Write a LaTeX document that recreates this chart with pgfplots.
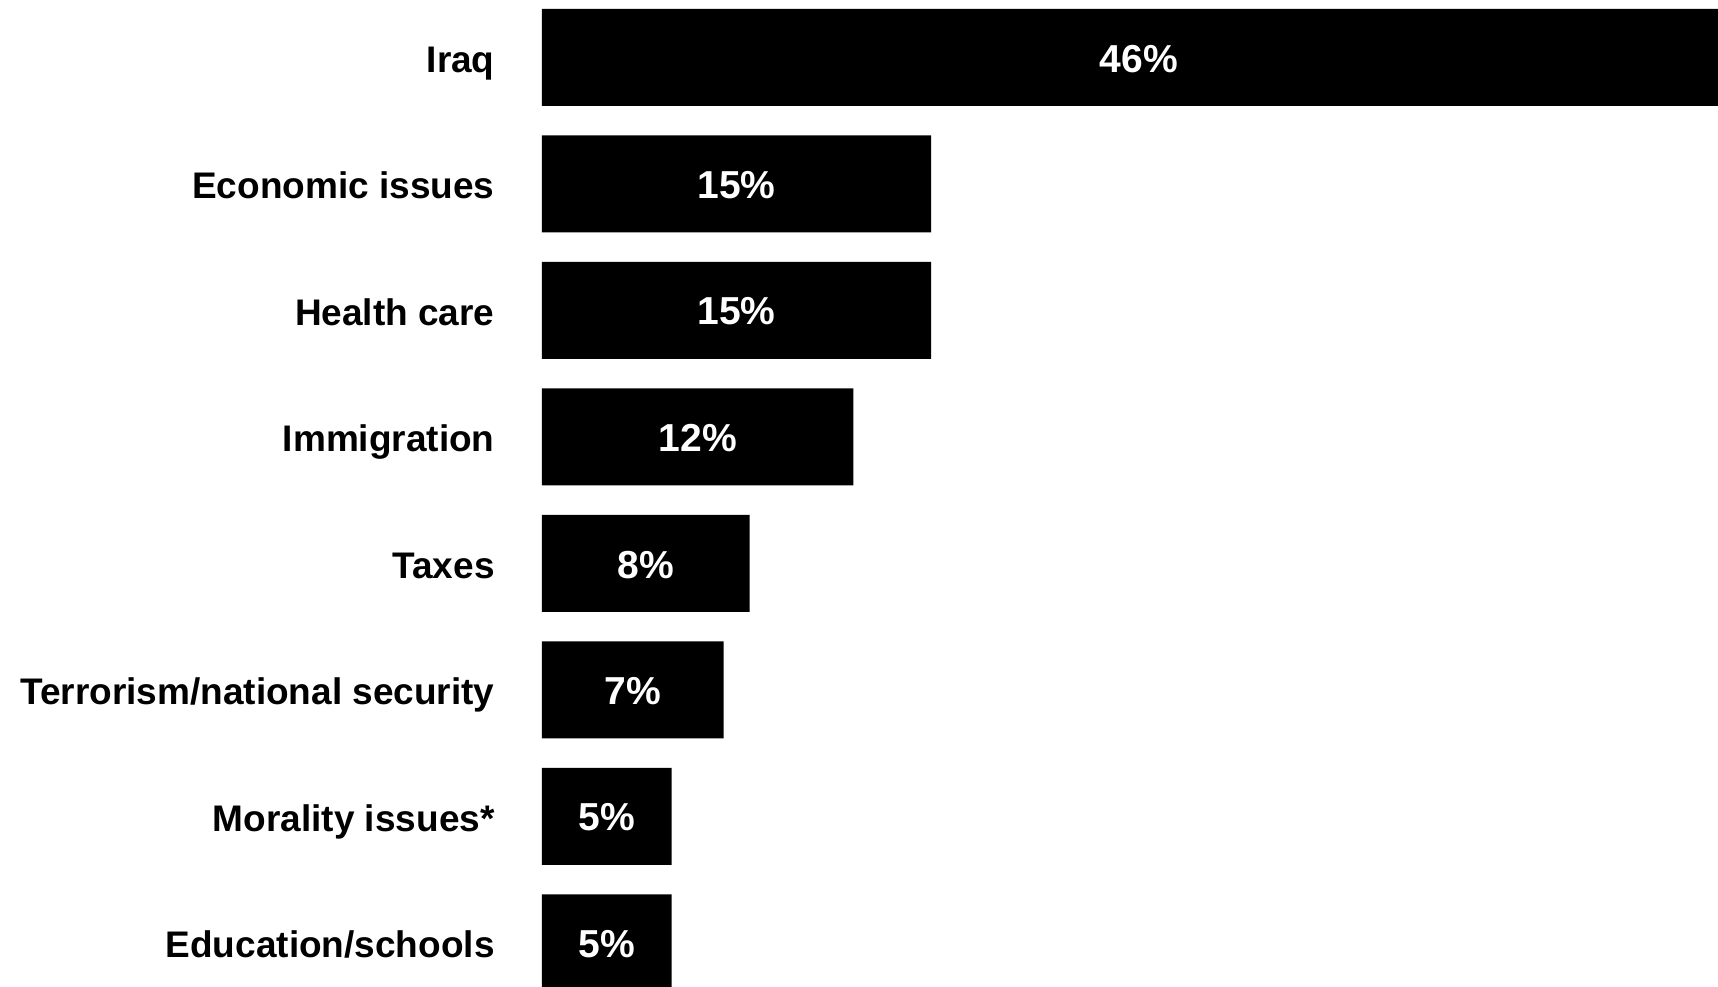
\documentclass[border=0pt]{standalone}
\usepackage{fontspec}
\setmainfont{Liberation Sans}
\usepackage{pgfplots}
\pgfplotsset{compat=1.18}
\begin{document}
\begin{tikzpicture}
\begin{axis}[
  at={(0,0)}, anchor=south west,
  scale only axis, width=588pt, height=493pt,
  xbar, bar width=0.768,
  xmin=0, xmax=45.32,
  ymin=-0.4538, ymax=7.341, y dir=reverse,
  clip=false,
  axis line style={draw=none},
  xtick=\empty,
  ytick={0,1,2,3,4,5,6,7},
  yticklabels={Iraq, Economic issues, Health care, Immigration, Taxes, Terrorism/national security, Morality issues*, Education/schools},
  major tick length=0pt,
  tick style={draw=none},
  /pgf/number format/assume math mode=true,
  yticklabel style={anchor=base east, inner sep=0pt, xshift=-23.5pt, yshift=-7.4pt, font=\fontsize{18.5}{20}\selectfont\bfseries},
  nodes near coords={\pgfmathprintnumber[assume math mode=true]{\pgfplotspointmeta}\%},
  point meta=x,
  visualization depends on={x \as \rawx},
  nodes near coords style={anchor=center, inner sep=0pt, text=white, font=\fontsize{19.5}{21}\selectfont\bfseries, xshift={-6.4875pt*\rawx}, yshift=-0.6pt},
]
\addplot[fill=black, draw=none] coordinates {(46,0) (15,1) (15,2) (12,3) (8,4) (7,5) (5,6) (5,7)};
\end{axis}
\pgfresetboundingbox
\useasboundingbox (-271pt,0) rectangle (588pt,493pt);
\end{tikzpicture}
\end{document}
